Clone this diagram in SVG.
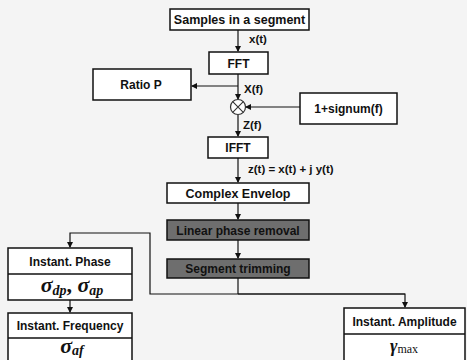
<svg xmlns="http://www.w3.org/2000/svg" width="467" height="360" viewBox="0 0 467 360">
<style>
.bx{fill:#fff;stroke:#111;stroke-width:1.5}
.dk{fill:#6e6e6e;stroke:#111;stroke-width:1.5}
.t{font-family:"Liberation Sans",Arial,sans-serif;font-weight:bold;font-size:12px;fill:#111;text-anchor:middle}
.lb{font-family:"Liberation Sans",Arial,sans-serif;font-weight:bold;font-size:11.5px;fill:#111}
.g{font-family:"Liberation Serif","Times New Roman",serif;font-style:italic;font-weight:bold;font-size:22px;fill:#111;text-anchor:middle}
.ln{fill:none;stroke:#111;stroke-width:1.2}
</style>
<defs>
<marker id="ar" markerWidth="6" markerHeight="6" refX="5" refY="3" orient="auto" markerUnits="userSpaceOnUse">
<path d="M0,0 L6,3 L0,6 z" fill="#111"/>
</marker>
</defs>
<rect width="467" height="360" fill="#f4f4f4"/>
<g id="connectors" class="ln">
<line x1="238" y1="30" x2="238" y2="51" marker-end="url(#ar)"/>
<line x1="238" y1="74" x2="238" y2="99" marker-end="url(#ar)"/>
<line x1="238" y1="86" x2="192" y2="86" marker-end="url(#ar)"/>
<line x1="300" y1="107" x2="246" y2="107" marker-end="url(#ar)"/>
<line x1="238" y1="115" x2="238" y2="136" marker-end="url(#ar)"/>
<line x1="238" y1="158" x2="238" y2="182" marker-end="url(#ar)"/>
<line x1="238" y1="203" x2="238" y2="219" marker-end="url(#ar)"/>
<line x1="238" y1="240" x2="238" y2="258" marker-end="url(#ar)"/>
<polyline points="238,278 238,294"/>
<polyline points="405,294 150,294 150,233 70,233 70,247" marker-end="url(#ar)"/>
<polyline points="238,294 405,294 405,307" marker-end="url(#ar)"/>
<line x1="70" y1="300" x2="70" y2="312" marker-end="url(#ar)"/>
</g>
<g id="samples"><rect class="bx" x="170" y="9" width="139" height="21"/><text class="t" x="239.5" y="24" style="font-size:12.5px">Samples in a segment</text></g>
<text class="lb" x="249" y="43">x(t)</text>
<g id="fft"><rect class="bx" x="209" y="52" width="59" height="22"/><text class="t" x="238.5" y="67.5">FFT</text></g>
<g id="ratio"><rect class="bx" x="93" y="69" width="98" height="31"/><text class="t" x="141" y="89">Ratio P</text></g>
<text class="lb" x="244" y="93">X(f)</text>
<g id="mult"><circle cx="238" cy="107" r="7.5" fill="#fff" stroke="#333" stroke-width="1.2"/><path d="M232.7,101.7 L243.3,112.3 M243.3,101.7 L232.7,112.3" stroke="#333" stroke-width="1.1"/></g>
<g id="signum"><rect class="bx" x="300" y="93" width="97" height="31"/><text class="t" x="348.5" y="112.5">1+signum(f)</text></g>
<text class="lb" x="243" y="129">Z(f)</text>
<g id="ifft"><rect class="bx" x="208" y="137" width="60" height="21"/><text class="t" x="238" y="152">IFFT</text></g>
<text class="lb" x="248" y="173">z(t) = x(t) + j y(t)</text>
<g id="complex"><rect class="bx" x="167" y="183" width="142" height="20"/><text class="t" x="238" y="197.5" style="font-size:12.5px">Complex Envelop</text></g>
<g id="linear"><rect class="dk" x="167" y="220" width="142" height="20"/><text class="t" x="238" y="234.5">Linear phase removal</text></g>
<g id="trim"><rect class="dk" x="167" y="259" width="142" height="19"/><text class="t" x="238" y="273">Segment trimming</text></g>
<g id="phase"><rect class="bx" x="8" y="248" width="124" height="52"/><line x1="8" y1="274" x2="132" y2="274" stroke="#111" stroke-width="1.5"/><text class="t" x="70" y="265.5">Instant. Phase</text><text class="g" x="72" y="292">σ<tspan font-size="14" dy="3">dp</tspan><tspan dy="-3" font-style="normal">, </tspan>σ<tspan font-size="14" dy="3">ap</tspan></text></g>
<g id="freq"><rect class="bx" x="8" y="313" width="124" height="52"/><line x1="8" y1="338" x2="132" y2="338" stroke="#111" stroke-width="1.5"/><text class="t" x="70" y="330">Instant. Frequency</text><text class="g" x="72" y="353">σ<tspan font-size="14" dy="2">af</tspan></text></g>
<g id="amp"><rect class="bx" x="344" y="308" width="121" height="57"/><line x1="344" y1="334" x2="465" y2="334" stroke="#111" stroke-width="1.5"/><text class="t" x="404.5" y="325.5">Instant. Amplitude</text><text x="404" y="352" style="font-family:'Liberation Serif',serif;font-size:18px;fill:#111;text-anchor:middle"><tspan font-style="italic" font-weight="bold">γ</tspan><tspan font-size="12" dy="1">max</tspan></text></g>
</svg>
